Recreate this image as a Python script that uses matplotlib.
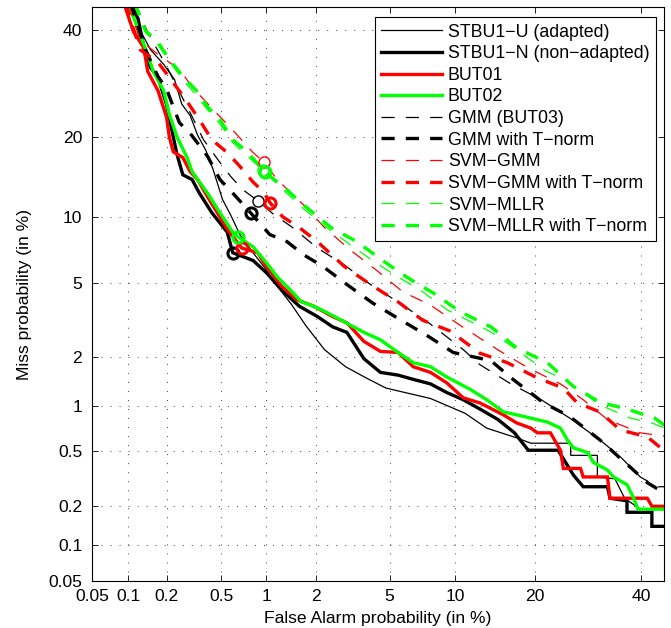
import numpy as np
import matplotlib
matplotlib.use('Agg')
import matplotlib.pyplot as plt
from matplotlib.ticker import FixedLocator, FixedFormatter, NullLocator
from statistics import NormalDist

plt.rcParams['font.family'] = ['Liberation Sans', 'DejaVu Sans']
plt.rcParams['lines.scale_dashes'] = False

# ---------------- data (percent) ----------------
ticks = [0.05, 0.1, 0.2, 0.5, 1, 2, 5, 10, 20, 40]
tick_labels = ['0.05', '0.1', '0.2', '0.5', '1', '2', '5', '10', '20', '40']

stbu1u_fa = [0.11, 0.125, 0.15, 0.19, 0.23, 0.26, 0.3, 0.34, 0.39, 0.44, 0.51, 0.58, 0.67, 0.84, 0.98, 1.15, 1.43, 1.75, 2.25, 2.95, 3.8, 4.8, 7.8, 11, 13.4, 17.3, 19.4, 26, 26, 31, 31, 34.5, 36.5, 39.8, 46]
stbu1u_miss = [46, 40, 36, 33, 30, 25.5, 23.5, 20.3, 18, 15.3, 11.8, 10.2, 8.4, 6.8, 5.9, 4.9, 3.9, 3.0, 2.2, 1.75, 1.5, 1.3, 1.12, 0.9, 0.72, 0.62, 0.57, 0.57, 0.47, 0.47, 0.33, 0.32, 0.23, 0.19, 0.19]

stbu1n_fa = [0.104, 0.12, 0.137, 0.15, 0.172, 0.2, 0.225, 0.24, 0.265, 0.31, 0.35, 0.43, 0.55, 0.6, 0.82, 1.0, 1.25, 1.6, 2.05, 2.5, 3.0, 3.7, 4.5, 5.5, 6.5, 7.8, 9.2, 10.8, 12.6, 14.8, 17, 19, 23.8, 26.5, 28.3, 33, 33.5, 37, 37, 42.3, 42.3, 46]
stbu1n_miss = [46, 42.5, 35, 32.4, 30.4, 25.4, 20, 17.4, 14.7, 14.1, 12.5, 10.4, 8.6, 6.95, 6.4, 5.6, 4.6, 3.8, 3.35, 2.95, 2.75, 1.95, 1.62, 1.56, 1.47, 1.38, 1.22, 1.1, 0.96, 0.82, 0.67, 0.51, 0.51, 0.34, 0.28, 0.28, 0.23, 0.22, 0.18, 0.18, 0.14, 0.14]

but01_fa = [0.092, 0.11, 0.133, 0.143, 0.172, 0.2, 0.21, 0.225, 0.265, 0.3, 0.34, 0.4, 0.47, 0.55, 0.69, 0.88, 1.0, 1.25, 1.55, 1.95, 2.5, 3.0, 3.7, 4.5, 5.5, 6.5, 7.8, 9.2, 10.8, 12.6, 15.5, 17.3, 19.4, 20.4, 22.5, 24.2, 24.7, 27.8, 28.3, 33, 33.5, 41.3, 42.3, 46]
but01_miss = [46, 39.8, 36.4, 31.6, 27.9, 23.2, 20, 17.8, 17, 15.1, 14.1, 12.1, 10.4, 8.85, 7.3, 6.95, 6.0, 4.8, 4.1, 3.8, 3.35, 3.1, 2.45, 2.15, 2.12, 1.75, 1.62, 1.4, 1.13, 1.05, 0.88, 0.78, 0.72, 0.67, 0.67, 0.51, 0.38, 0.38, 0.33, 0.33, 0.23, 0.23, 0.2, 0.2]

but02_fa = [0.098, 0.11, 0.143, 0.158, 0.19, 0.21, 0.24, 0.285, 0.31, 0.4, 0.49, 0.6, 0.65, 0.82, 1.0, 1.17, 1.45, 1.65, 1.95, 2.35, 2.8, 3.7, 4.5, 5.5, 6.5, 7.8, 9.2, 11.6, 13.4, 15.5, 18.3, 22, 24.2, 25.4, 26.5, 29.2, 30.2, 33, 34.2, 37, 38.4, 39.3, 46]
but02_miss = [46, 42.9, 35, 31.6, 27.9, 23.7, 20, 17, 15.1, 12.5, 10.4, 8.6, 8.2, 7.4, 6.25, 5.35, 4.5, 4.0, 3.8, 3.5, 3.2, 2.75, 2.5, 2.12, 1.85, 1.75, 1.52, 1.27, 1.1, 0.92, 0.86, 0.79, 0.72, 0.6, 0.53, 0.49, 0.42, 0.37, 0.33, 0.29, 0.23, 0.19, 0.19]

gmm_fa = [0.113, 0.143, 0.2, 0.25, 0.3, 0.375, 0.47, 0.58, 0.7, 0.89, 1.12, 1.43, 2.05, 2.9, 4.0, 5.7, 7.8, 10.8, 12.6, 16.5, 21, 25.8, 31.5, 35.6, 39.8, 43.5, 46]
gmm_miss = [46, 39.6, 32.6, 27.7, 24, 19.6, 16.8, 14.5, 12.9, 11.6, 10.2, 9.1, 7.3, 6.1, 4.9, 3.9, 3.05, 2.2, 1.8, 1.38, 1.1, 0.84, 0.6, 0.46, 0.33, 0.28, 0.28]

gmmt_fa = [0.104, 0.137, 0.172, 0.2, 0.25, 0.3, 0.4, 0.49, 0.6, 0.79, 1.05, 1.35, 1.7, 2.2, 3.0, 4.1, 5.7, 7.5, 9.8, 13.9, 16.8, 21.4, 25.8, 31.5, 37.6, 41.3, 46]
gmmt_miss = [46, 36, 30.6, 28.2, 22.3, 20.6, 17.2, 14.1, 12.5, 10.4, 8.4, 7.8, 6.8, 6.0, 4.9, 3.95, 3.2, 2.65, 2.12, 1.9, 1.47, 1.05, 0.86, 0.6, 0.39, 0.3, 0.24]

svmgmm_fa = [0.1, 0.124, 0.172, 0.25, 0.31, 0.4, 0.49, 0.6, 0.82, 0.96, 1.17, 1.7, 2.25, 3.1, 4.4, 5.8, 7.8, 10.5, 15.1, 19, 24.2, 28.3, 33, 39.8, 46]
svmgmm_miss = [46, 38, 35, 32, 28.6, 25.6, 23.3, 21.1, 17.7, 16.4, 14.1, 11.2, 9.0, 7.2, 5.65, 4.5, 3.85, 3.0, 2.15, 1.72, 1.38, 1.1, 0.82, 0.67, 0.63]

svmgmmt_fa = [0.095, 0.124, 0.172, 0.225, 0.28, 0.35, 0.43, 0.55, 0.67, 0.82, 0.96, 1.06, 1.27, 1.6, 2.05, 2.9, 4.0, 5.5, 7.2, 9.5, 12.6, 16, 20.4, 24.7, 27.2, 31.5, 35.6, 41.3, 44.2, 46]
svmgmmt_miss = [46, 36, 33.4, 29.4, 26.2, 22.8, 19.6, 17.7, 15.8, 13.8, 12.6, 11.4, 10.0, 9.0, 7.8, 6.0, 4.9, 4.0, 3.2, 2.8, 2.1, 1.85, 1.5, 1.3, 1.05, 0.92, 0.7, 0.63, 0.53, 0.52]

svmmllr_fa = [0.11, 0.137, 0.172, 0.21, 0.265, 0.34, 0.4, 0.49, 0.6, 0.76, 0.95, 1.27, 1.7, 2.45, 3.9, 5.3, 7.0, 9.2, 14, 17.3, 21.4, 25.8, 31.5, 37.6, 42.3, 46]
svmmllr_miss = [46, 39.6, 37, 33.6, 30, 26.8, 24.5, 22.1, 19.2, 17.1, 15.3, 12.9, 10.8, 8.7, 6.6, 5.45, 4.6, 3.65, 2.75, 2.2, 1.68, 1.4, 1.02, 0.84, 0.78, 0.7]

svmmllrt_fa = [0.113, 0.137, 0.172, 0.21, 0.265, 0.34, 0.4, 0.49, 0.6, 0.76, 0.98, 1.27, 1.7, 2.45, 3.4, 4.5, 6.1, 8.0, 10.5, 14, 17.3, 22, 26.5, 31.5, 37, 42.8, 46]
svmmllrt_miss = [46, 40, 37.5, 34, 30.6, 27.7, 25, 22.8, 19.6, 17.7, 15, 13.3, 11.2, 9.0, 7.8, 6.5, 5.3, 4.45, 3.55, 2.93, 2.25, 1.85, 1.33, 1.06, 0.96, 0.84, 0.72]

labels = ['STBU1\u2212U (adapted)', 'STBU1\u2212N (non\u2212adapted)', 'BUT01', 'BUT02',
          'GMM (BUT03)', 'GMM with T\u2212norm', 'SVM\u2212GMM', 'SVM\u2212GMM with T\u2212norm',
          'SVM\u2212MLLR', 'SVM\u2212MLLR with T\u2212norm']

# operating (min-DCF) points marked with circles, nan = not shown
dcf_fa = [np.nan, 0.6, 0.69, 0.65, 0.89, 0.79, 0.96, 1.06, 0.95, 0.98]
dcf_miss = [np.nan, 6.95, 7.3, 8.2, 11.6, 10.4, 16.4, 11.4, 15.3, 15.0]

series = [(stbu1u_fa, stbu1u_miss), (stbu1n_fa, stbu1n_miss), (but01_fa, but01_miss),
          (but02_fa, but02_miss), (gmm_fa, gmm_miss), (gmmt_fa, gmmt_miss),
          (svmgmm_fa, svmgmm_miss), (svmgmmt_fa, svmgmmt_miss),
          (svmmllr_fa, svmmllr_miss), (svmmllrt_fa, svmmllrt_miss)]

# ---------------- styles ----------------
G = '#00ff00'
colors = ['k', 'k', 'r', G, 'k', 'k', 'r', 'r', G, G]
widths = [0.9, 2.4, 2.4, 2.4, 0.9, 2.4, 0.9, 2.4, 0.9, 2.4]
dashed = [False, False, False, False, True, True, True, True, True, True]

# ---------------- probit scale ----------------
_nd = NormalDist()


def fwd(x):
    a = np.asarray(x, dtype=float)
    flat = np.clip(a.ravel() / 100.0, 1e-9, 1 - 1e-9)
    out = np.array([_nd.inv_cdf(v) if np.isfinite(v) else np.nan for v in flat], dtype=float)
    return out.reshape(a.shape)


def inv(z):
    a = np.asarray(z, dtype=float)
    flat = a.ravel()
    out = np.array([_nd.cdf(v) * 100.0 if np.isfinite(v) else np.nan for v in flat], dtype=float)
    return out.reshape(a.shape)


fig = plt.figure(figsize=(6.71, 6.28), dpi=100)
ax = fig.add_axes([0.1371, 0.0748, 0.8529, 0.9135])
ax.set_xscale('function', functions=(fwd, inv))
ax.set_yscale('function', functions=(fwd, inv))

handles = []
for (fa, miss), c, w, d in zip(series, colors, widths, dashed):
    ln, = ax.plot(fa, miss, color=c, lw=w, solid_joinstyle='miter')
    if d:
        ln.set_dashes((9.5, 8.0))
    handles.append(ln)

for fa, miss, c, w in zip(dcf_fa, dcf_miss, colors, widths):
    if np.isfinite(fa):
        ax.plot([fa], [miss], marker='o', ms=8, mfc='none', mec=c,
                mew=(1.0 if w < 1.5 else 2.2), ls='none')

ax.set_xlim(0.05, 45)
ax.set_ylim(0.05, 45)
for axis in (ax.xaxis, ax.yaxis):
    axis.set_major_locator(FixedLocator(ticks))
    axis.set_major_formatter(FixedFormatter(tick_labels))
    axis.set_minor_locator(NullLocator())

ax.grid(True, color='k', linewidth=0.7, linestyle=(0, (0.7, 5.8)), alpha=0.75)
ax.tick_params(direction='in', length=4, width=0.6, top=True, right=True,
               labelsize=12.6, colors='k')
ax.tick_params(axis='x', pad=6)
ax.tick_params(axis='y', pad=7)
for s in ax.spines.values():
    s.set_linewidth(0.8)

ax.set_xlabel('False Alarm probability (in %)', fontsize=12.6, labelpad=5)
ax.set_ylabel('Miss probability (in %)', fontsize=12.6, labelpad=11.5)

leg = ax.legend(handles, labels, loc='upper right', bbox_to_anchor=(0.985, 0.9826),
                borderaxespad=0, fontsize=12.8, handlelength=3.4, handletextpad=0.35,
                labelspacing=0.26, borderpad=0.35, fancybox=False, framealpha=1,
                edgecolor='k')
leg.get_frame().set_linewidth(0.8)

fig.savefig('out.png', dpi=100)
